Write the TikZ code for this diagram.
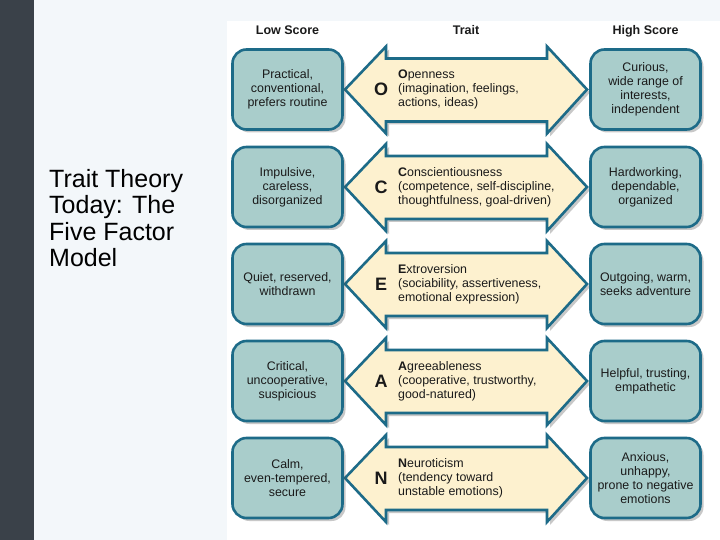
\documentclass[tikz,border=0pt]{standalone}
\usepackage{fontspec}
\setmainfont{Liberation Sans}
\usetikzlibrary{shadows}
\definecolor{barcol}{HTML}{3A4149}
\definecolor{bgcol}{HTML}{F3F7FA}
\definecolor{boxfill}{HTML}{A9CDCB}
\definecolor{boxline}{HTML}{1D6B88}
\definecolor{arrowfill}{HTML}{FDF1CF}
\definecolor{txtcol}{HTML}{1A1A1A}
\newcommand\traitrow[6]{%
  \draw[traitarrow] (345,#2) -- (386,#2-43) -- (386,#2-31) -- (547,#2-31) -- (547,#2-43)
    -- (587,#2) -- (547,#2+44) -- (547,#2+32) -- (386,#2+32) -- (386,#2+44) -- cycle;
  \node[scorebox] (low#1) at (287.5,#2) {#3};
  \node[scorebox] (high#1) at (645.5,#2) {#6};
  \node[letterlab] (let#1) at (381,#2) {#4};
  \node[traitlab] (trait#1) at (398,#2) {#5};
}
\begin{document}
\begin{tikzpicture}[x=1pt,y=-1pt,
  scorebox/.style={draw=boxline, line width=2.6pt, fill=boxfill, rounded corners=14pt,
    minimum width=110pt, minimum height=80pt, align=center, inner sep=0pt,
    text=txtcol, font=\fontsize{12.4}{14}\selectfont,
    drop shadow={shadow xshift=3pt, shadow yshift=-3pt, opacity=0.3, fill=black!70}},
  traitarrow/.style={draw=boxline, line width=2.6pt, fill=arrowfill, line join=miter,
    drop shadow={shadow xshift=3pt, shadow yshift=-3pt, opacity=0.3, fill=black!70}},
  letterlab/.style={font=\fontsize{18}{20}\selectfont\bfseries, text=txtcol, inner sep=0pt},
  traitlab/.style={anchor=west, align=left, inner sep=0pt, text=txtcol,
    font=\fontsize{12.4}{14}\selectfont},
  headlab/.style={anchor=base, font=\fontsize{12.5}{14}\selectfont\bfseries, text=txtcol, inner sep=0pt},
  titlelab/.style={anchor=north west, align=left, inner sep=0pt, text=black,
    font=\fontsize{25}{26.5}\selectfont}
]
\useasboundingbox (0,0) rectangle (720,540);
\fill[bgcol] (0,0) rectangle (720,540);
\fill[barcol] (0,0) rectangle (34,540);
\fill[white] (227,21) rectangle (720,540);

\node[titlelab] (title) at (49,169) {Trait Theory\\Today: The\\Five Factor\\Model};

\node[headlab] (hlow) at (287.5,34.5) {Low Score};
\node[headlab] (htrait) at (466,34.5) {Trait};
\node[headlab] (hhigh) at (645.5,34.5) {High Score};

\traitrow{O}{89.5}{Practical,\\conventional,\\prefers routine}{O}
  {\textbf{O}penness\\(imagination, feelings,\\actions, ideas)}
  {Curious,\\wide range of\\interests,\\independent}
\traitrow{C}{187}{Impulsive,\\careless,\\disorganized}{C}
  {\textbf{C}onscientiousness\\(competence, self-discipline,\\thoughtfulness, goal-driven)}
  {Hardworking,\\dependable,\\organized}
\traitrow{E}{284}{Quiet, reserved,\\withdrawn}{E}
  {\textbf{E}xtroversion\\(sociability, assertiveness,\\emotional expression)}
  {Outgoing, warm,\\seeks adventure}
\traitrow{A}{381}{Critical,\\uncooperative,\\suspicious}{A}
  {\textbf{A}greeableness\\(cooperative, trustworthy,\\good-natured)}
  {Helpful, trusting,\\empathetic}
\traitrow{N}{478}{Calm,\\even-tempered,\\secure}{N}
  {\textbf{N}euroticism\\(tendency toward\\unstable emotions)}
  {Anxious,\\unhappy,\\prone to negative\\emotions}
\end{tikzpicture}
\end{document}
